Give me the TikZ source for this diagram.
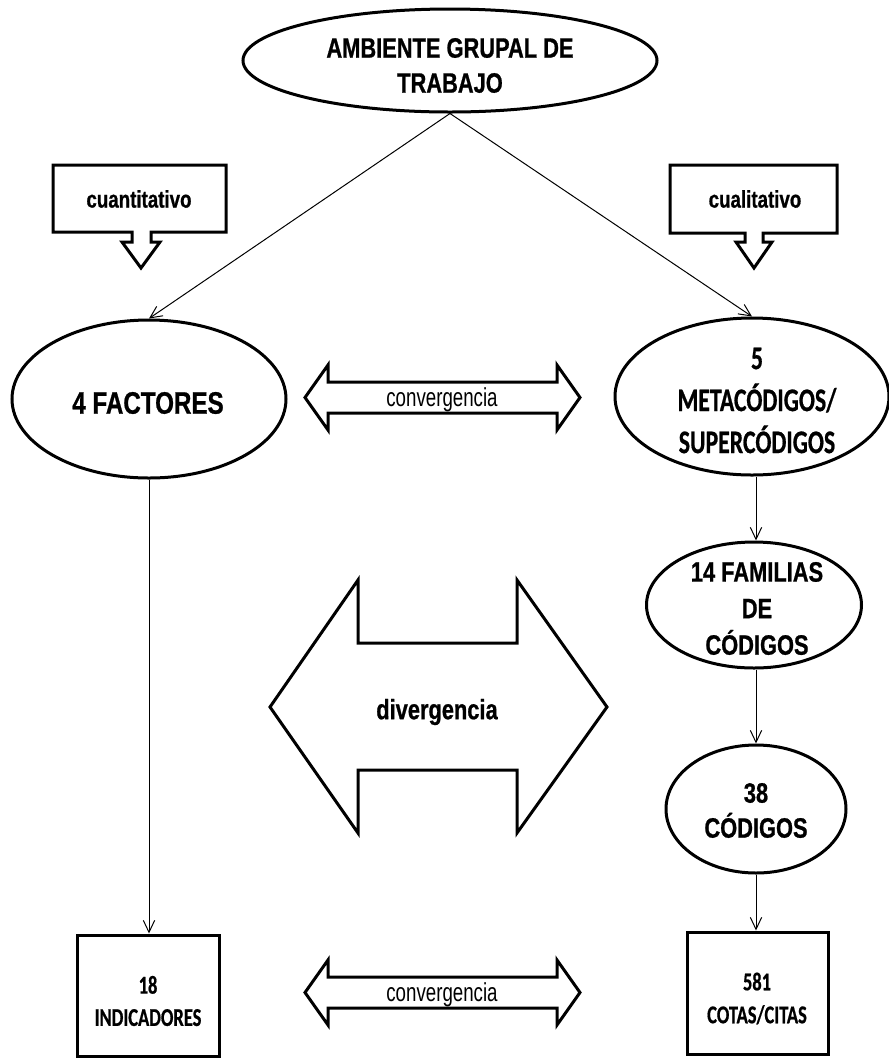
\documentclass[tikz,border=0pt]{standalone}
\usepackage{fontspec}
\usetikzlibrary{arrows.meta,shapes.geometric}
\newfontfamily\headfont[FakeStretch=0.78,FakeBold=0.8]{Liberation Sans Bold}
\newfontfamily\thinfont[FakeStretch=0.72]{Liberation Sans}
\newfontfamily\calfont[FakeStretch=0.72,FakeBold=0.6]{Carlito Bold}
\tikzset{
  oval/.style={ellipse, draw, line width=2.25pt, inner sep=0pt},
  rectbox/.style={rectangle, draw, line width=2.25pt, inner sep=0pt},
  txt/.style={inner sep=0pt, align=center},
  link/.style={line width=0.75pt, -{Straight Barb[length=9pt,width=8.5pt]}},
  outline/.style={draw, line width=2.25pt, line join=miter},
}
\begin{document}
\begin{tikzpicture}[x=0.75pt,y=-0.75pt]
\useasboundingbox (0,0) rectangle (889,1058);

% main shapes
\node[oval, minimum width=414*0.75pt, minimum height=103*0.75pt] (amb) at (450,60.5) {};
\node[oval, minimum width=274*0.75pt, minimum height=158*0.75pt] (fact) at (149,399) {};
\node[oval, minimum width=274*0.75pt, minimum height=157*0.75pt] (meta) at (752,396.5) {};
\node[oval, minimum width=215*0.75pt, minimum height=126*0.75pt] (fam) at (754,605) {};
\node[oval, minimum width=180*0.75pt, minimum height=128*0.75pt] (cod) at (756,809) {};
\node[rectbox, minimum width=142*0.75pt, minimum height=121*0.75pt] (ind) at (148,995.5) {};
\node[rectbox, minimum width=141*0.75pt, minimum height=122*0.75pt] (cit) at (757.5,993) {};
\coordinate (col) at (756,0);

% labels
\node[txt, font=\headfont\fontsize{21}{26.25}\selectfont] (ambt) at (450,65.5) {AMBIENTE GRUPAL DE\\TRABAJO};
\node[txt, font=\headfont\fontsize{23.25}{28}\selectfont] (factt) at (148,403) {4 FACTORES};
\node[txt, font=\calfont\fontsize{24.75}{31.5}\selectfont] (metat) at (757,400.5) {5\\METACÓDIGOS/\\SUPERCÓDIGOS};
\node[txt, font=\headfont\fontsize{21}{27.4}\selectfont] (famt) at (757,608.5) {14 FAMILIAS\\DE\\CÓDIGOS};
\node[txt, font=\headfont\fontsize{21}{26.25}\selectfont] (codt) at (756,810.5) {38\\CÓDIGOS};
\node[txt, font=\calfont\fontsize{19.25}{24.2}\selectfont] (indt) at (148,1001) {18\\INDICADORES};
\node[txt, font=\calfont\fontsize{19.25}{24.7}\selectfont] (citt) at (757,998.5) {581\\COTAS/CITAS};

% connectors
\draw[link] (amb.south) -- (fact.north);
\draw[link] (amb.south) -- (meta.north);
\draw[link] (fact.south) -- (fact.south |- ind.north);
\draw[link] (meta.south -| col) -- (fam.north -| col);
\draw[link] (fam.south -| col) -- (cod.north -| col);
\draw[link] (cod.south -| col) -- (cit.north -| col);

% callouts
\draw[outline] (53,165) -- (226,165) -- (226,232) -- (151,232) -- (151,242) -- (160,242)
  -- (141,268) -- (122,242) -- (132,242) -- (132,232) -- (53,232) -- cycle;
\node[txt, font=\headfont\fontsize{18}{22}\selectfont] (quant) at (139,199) {cuantitativo};
\draw[outline] (670,165) -- (837,165) -- (837,233) -- (763,233) -- (763,242) -- (772,242)
  -- (754,268) -- (736,242) -- (745,242) -- (745,233) -- (670,233) -- cycle;
\node[txt, font=\headfont\fontsize{18}{22}\selectfont] (qual) at (755,199) {cualitativo};

% double block arrows
\draw[outline] (305,397.5) -- (328,365) -- (328,382) -- (557,382) -- (557,365) -- (580,397.5)
  -- (557,430) -- (557,413) -- (328,413) -- (328,430) -- cycle;
\node[txt, font=\thinfont\fontsize{19.5}{22}\selectfont] (conv1) at (442,400) {convergencia};

\draw[outline] (270,707) -- (358,580) -- (358,643) -- (517,643) -- (517,580) -- (607,707)
  -- (517,833) -- (517,770) -- (358,770) -- (358,833) -- cycle;
\node[txt, font=\headfont\fontsize{21}{25}\selectfont] (div) at (437,712) {divergencia};

\draw[outline] (305,992.5) -- (328,960) -- (328,977) -- (557,977) -- (557,960) -- (580,992.5)
  -- (557,1025) -- (557,1008) -- (328,1008) -- (328,1025) -- cycle;
\node[txt, font=\thinfont\fontsize{19.5}{22}\selectfont] (conv2) at (442,995) {convergencia};
\end{tikzpicture}
\end{document}
